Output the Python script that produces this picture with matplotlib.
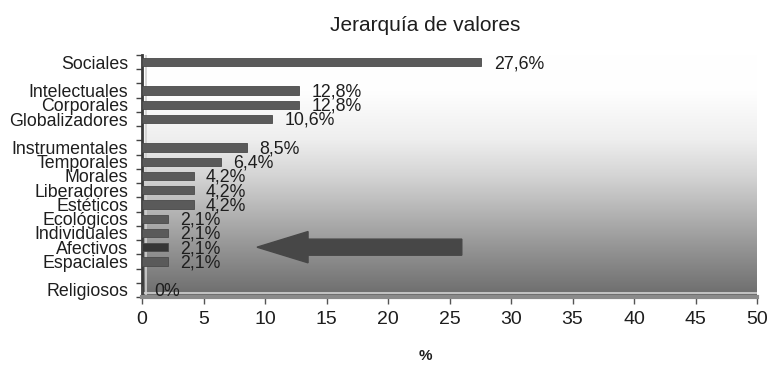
import matplotlib.pyplot as plt
import numpy as np
from matplotlib.colors import LinearSegmentedColormap
from matplotlib.patches import FancyArrow

categorias = [
    "Sociales",
    "Intelectuales",
    "Corporales",
    "Globalizadores",
    "Instrumentales",
    "Temporales",
    "Morales",
    "Liberadores",
    "Estéticos",
    "Ecológicos",
    "Individuales",
    "Afectivos",
    "Espaciales",
    "Religiosos",
]
porcentajes = [27.6, 12.8, 12.8, 10.6, 8.5, 6.4, 4.2, 4.2, 4.2, 2.1, 2.1, 2.1, 2.1, 0.0]
destacado = "Afectivos"

# filas del eje vertical (con huecos entre grupos)
posiciones = [0, 2, 3, 4, 6, 7, 8, 9, 10, 11, 12, 13, 14, 16]

# flecha que señala la categoría destacada
flecha_inicio = 26.0
flecha_punta = 9.35

plt.rcParams["font.family"] = ["Liberation Sans", "DejaVu Sans"]
texto = "#1e1e1e"


def etiqueta(v):
    if v == 0:
        return "0%"
    return f"{v:.1f}".replace(".", ",") + "%"


fig = plt.figure(figsize=(7.68, 3.79), dpi=100)
ax = fig.add_axes([142 / 768, 82 / 379, 615 / 768, 242 / 379])

# fondo degradado: blanco arriba, gris oscuro abajo
niveles = [(0.0, 255), (0.15, 254), (0.35, 238), (0.5, 212), (0.65, 180),
           (0.8, 148), (0.93, 122), (1.0, 108)]
fondo = LinearSegmentedColormap.from_list(
    "fondo", [(p, (g / 255,) * 3) for p, g in niveles]
)
ax.imshow(
    np.linspace(0, 1, 256).reshape(-1, 1),
    cmap=fondo,
    aspect="auto",
    extent=[0, 1, 0, 1],
    transform=ax.transAxes,
    origin="upper",
    zorder=0,
)

colores = ["#363636" if c == destacado else "#5a5a5a" for c in categorias]
ax.barh(posiciones, porcentajes, height=0.58, color=colores,
        edgecolor="#4a4a4a", linewidth=0.6, zorder=3)

for p, v in zip(posiciones, porcentajes):
    ax.text(v + 1.0, p + 0.1, etiqueta(v), va="center", ha="left",
            fontsize=12.8, color=texto, zorder=4)

fila = posiciones[categorias.index(destacado)]
ax.add_patch(
    FancyArrow(
        flecha_inicio, fila, flecha_punta - flecha_inicio, 0,
        width=1.13, head_width=2.2, head_length=4.15,
        length_includes_head=True, color="#474747", zorder=4,
    )
)

# pared izquierda y suelo con aspecto 3D
ax.axvline(0.3, color="#d0d0d0", lw=1.2, zorder=2)
ax.axhline(16.5 - 0.28, color="#d2d2d2", lw=1.2, zorder=2)

ax.set_xlim(0, 50)
ax.set_ylim(16.5, -0.5)
ax.set_xticks(range(0, 51, 5))
ax.set_yticks(posiciones, categorias)
ax.set_yticks(np.arange(-0.5, 17, 1), minor=True)
ax.tick_params(axis="y", which="major", length=0, pad=10, labelsize=12.8,
               labelcolor=texto)
ax.tick_params(axis="y", which="minor", length=4, width=1, color="#444444",
               direction="out")
ax.tick_params(axis="x", length=5, width=1, color="#555555", pad=5,
               labelcolor=texto)
for lbl in ax.get_xticklabels():
    lbl.set_fontfamily(["Liberation Sans Narrow", "Liberation Sans"])
    lbl.set_fontsize(14)

for lado in ["top", "right"]:
    ax.spines[lado].set_visible(False)
ax.spines["left"].set_color("#3a3a3a")
ax.spines["left"].set_linewidth(2)
ax.spines["bottom"].set_color("#8a8a8a")
ax.spines["bottom"].set_linewidth(3)

ax.set_title("Jerarquía de valores", fontsize=15, pad=17, x=0.46, color=texto)
ax.set_xlabel("%", fontsize=11, fontweight="bold", color=texto)
ax.xaxis.set_label_coords(0.46, -0.215)

fig.savefig("out.png", dpi=100)
